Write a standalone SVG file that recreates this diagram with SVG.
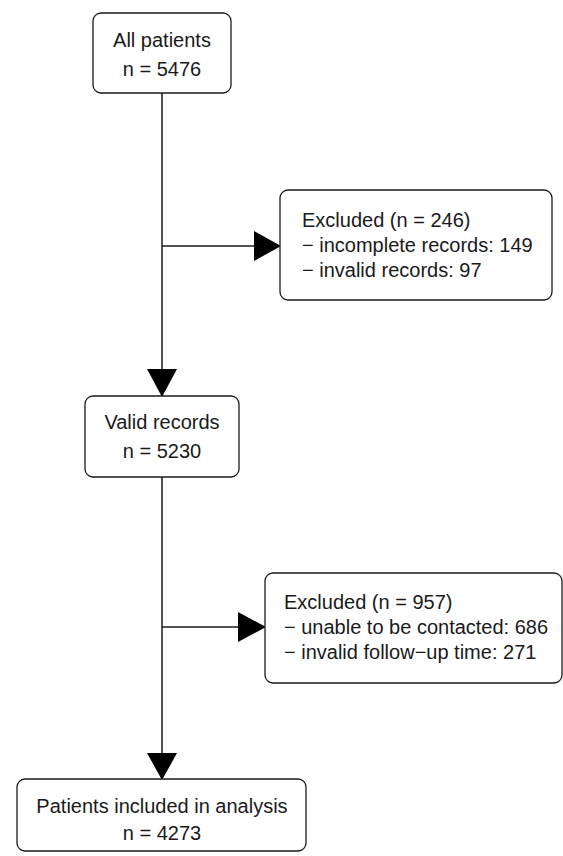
<svg xmlns="http://www.w3.org/2000/svg" width="563" height="856" viewBox="0 0 563 856">
<style>
.box{fill:#fff;stroke:#1a1a1a;stroke-width:1.3}
.ln{stroke:#1a1a1a;stroke-width:1.5;fill:none}
.ah{fill:#000}
text{font-family:"Liberation Sans",Arial,sans-serif;font-size:20px;fill:#1a1a1a}
.c{text-anchor:middle}
</style>
<g id="connectors">
<line class="ln" x1="162" y1="93" x2="162" y2="372"/>
<line class="ln" x1="162" y1="246" x2="256" y2="246"/>
<polygon class="ah" points="147,369 177,369 162,397"/>
<polygon class="ah" points="254,231 254,261 281,246"/>
<line class="ln" x1="162" y1="477" x2="162" y2="756"/>
<line class="ln" x1="162" y1="627" x2="240" y2="627"/>
<polygon class="ah" points="147,753 177,753 162,780"/>
<polygon class="ah" points="238,612 238,642 266,627"/>
</g>
<g id="all-patients">
<rect class="box" x="93" y="13" width="138" height="80" rx="8"/>
<text class="c" x="162" y="47">All patients</text>
<text class="c" x="162" y="76">n = 5476</text>
</g>
<g id="excluded-1">
<rect class="box" x="280" y="190" width="272" height="110" rx="8"/>
<text x="302" y="227">Excluded (n = 246)</text>
<text x="302" y="252">− incomplete records: 149</text>
<text x="302" y="277">− invalid records: 97</text>
</g>
<g id="valid-records">
<rect class="box" x="85" y="396" width="154" height="81" rx="8"/>
<text class="c" x="162" y="429">Valid records</text>
<text class="c" x="162" y="458">n = 5230</text>
</g>
<g id="excluded-2">
<rect class="box" x="265" y="573" width="297" height="110" rx="8"/>
<text x="284" y="609">Excluded (n = 957)</text>
<text x="284" y="634">− unable to be contacted: 686</text>
<text x="284" y="659">− invalid follow−up time: 271</text>
</g>
<g id="included">
<rect class="box" x="17" y="779" width="289" height="72" rx="8"/>
<text class="c" x="162" y="813">Patients included in analysis</text>
<text class="c" x="162" y="840">n = 4273</text>
</g>
</svg>
